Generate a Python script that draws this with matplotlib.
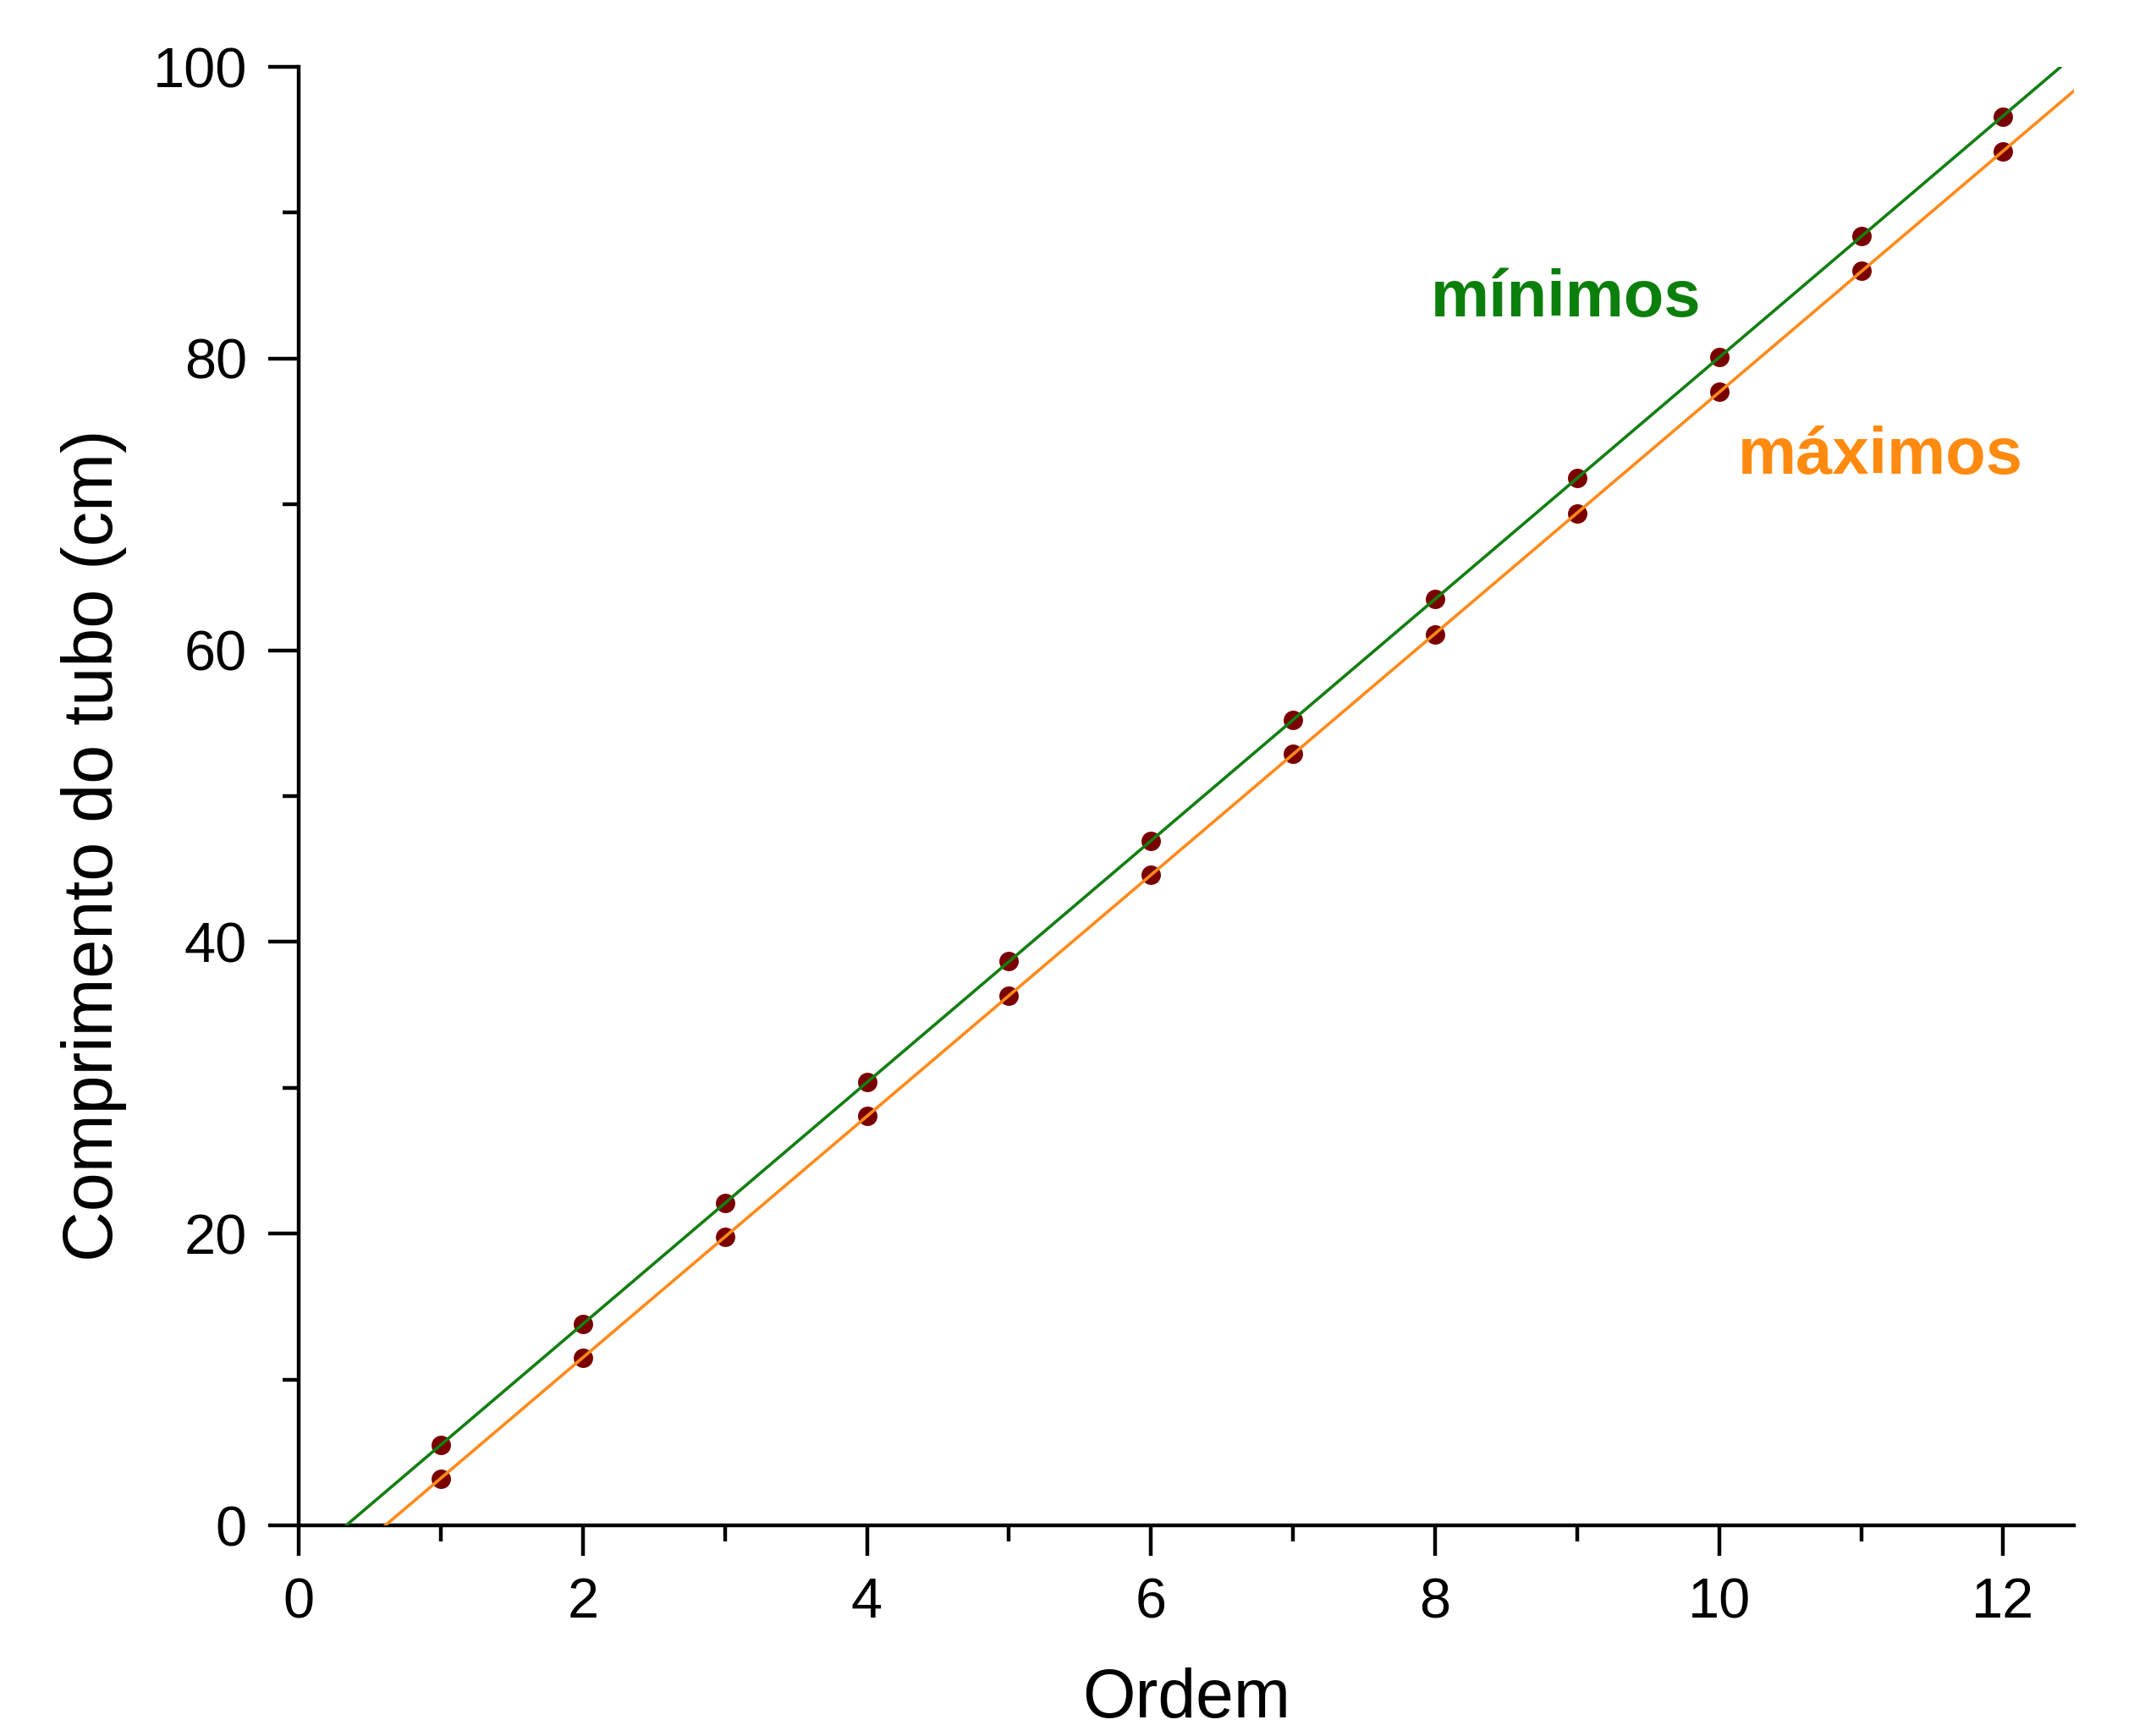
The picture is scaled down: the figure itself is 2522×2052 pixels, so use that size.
#!/usr/bin/env python3
# -*- coding: utf-8 -*-
"""Comprimento do tubo x ordem (minimos e maximos) com ajuste linear."""
import numpy as np
import matplotlib
matplotlib.use("Agg")
import matplotlib.pyplot as plt
from matplotlib.ticker import MultipleLocator

plt.rcParams["font.family"] = ["Liberation Sans", "DejaVu Sans"]

ordem = [1, 2, 3, 4, 5, 6, 7, 8, 9, 10, 11, 12]
minimos = [5.5, 13.8, 22.1, 30.4, 38.7, 46.9, 55.2, 63.5, 71.8, 80.1, 88.4, 96.6]
maximos = [3.2, 11.5, 19.8, 28.1, 36.3, 44.6, 52.9, 61.1, 69.4, 77.7, 86.0, 94.2]

COR_MIN = "#127f12"
COR_MAX = "#ff8a1a"
COR_PTO = "#7a0000"

fig = plt.figure(figsize=(25.22, 20.52), dpi=100)
ax = fig.add_axes([0.140, 0.1213, 0.832, 0.8402])

# ajuste linear de cada serie, desenhado de y=0 ate o fim do eixo
for ys, cor, xfim in [(minimos, COR_MIN, 12.4), (maximos, COR_MAX, 12.5)]:
    a, b = np.polyfit(ordem, ys, 1)
    xx = np.linspace(-b / a, xfim, 50)
    ax.plot(xx, a * xx + b, color=cor, lw=2.6, zorder=3)
    ax.plot(ordem, ys, "o", color=COR_PTO, ms=16.5, mec="none", zorder=2)

ax.text(7.97, 82.9, "mínimos", color="#0b7f0b", fontsize=56, fontweight="bold")
ax.text(10.13, 72.1, "máximos", color="#ff8a10", fontsize=56, fontweight="bold")

ax.set_xlim(0, 12.5)
ax.set_ylim(0, 100)
for s in ["top", "right"]:
    ax.spines[s].set_visible(False)
for s in ["left", "bottom"]:
    ax.spines[s].set_linewidth(3.2)
ax.xaxis.set_major_locator(MultipleLocator(2))
ax.xaxis.set_minor_locator(MultipleLocator(1))
ax.yaxis.set_major_locator(MultipleLocator(20))
ax.yaxis.set_minor_locator(MultipleLocator(10))
ax.tick_params(which="major", length=26, width=3.2, labelsize=48, pad=18)
ax.tick_params(which="minor", length=14, width=3.2)

ax.set_xlabel("Ordem", fontsize=58, labelpad=32)
ax.set_ylabel("Comprimento do tubo (cm)", fontsize=59.5)
ax.yaxis.set_label_coords(-0.097, 0.466)

fig.savefig("out.png", dpi=100)
